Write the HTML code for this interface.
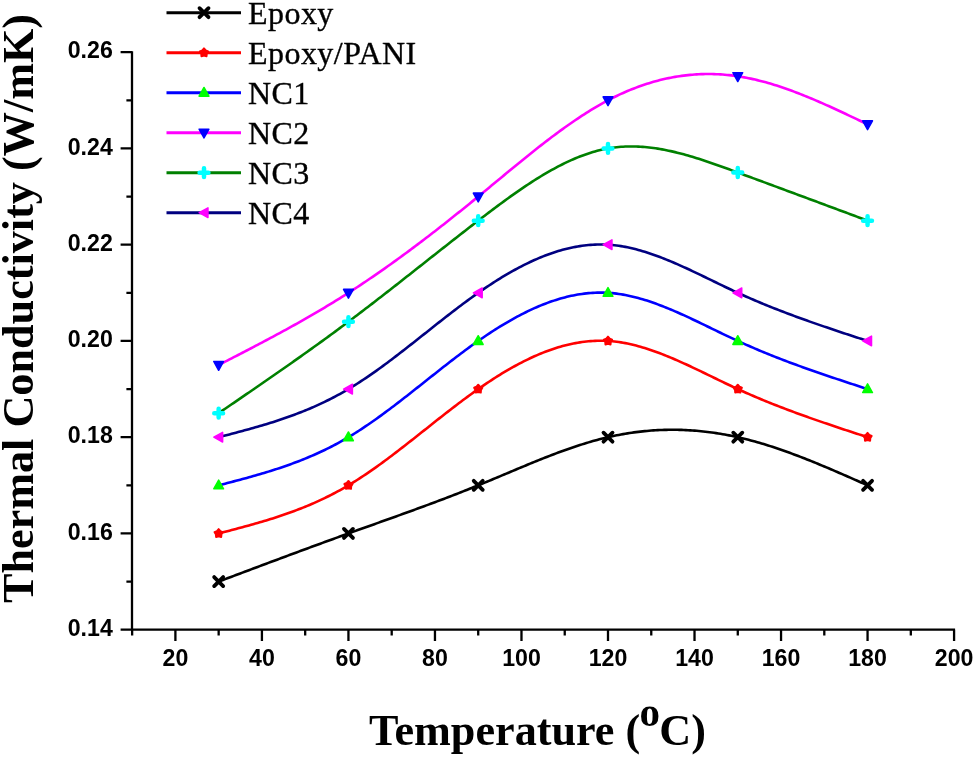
<!DOCTYPE html>
<html><head><meta charset="utf-8"><style>
html,body{margin:0;padding:0;background:#fff;width:975px;height:757px;overflow:hidden}
svg{display:block;will-change:transform}
.tk{font-family:"Liberation Sans",sans-serif;font-weight:bold;font-size:22.5px}
.lg{font-family:"Liberation Serif",serif;font-size:32px;letter-spacing:0.45px;stroke:#000;stroke-width:0.35px}
.ti{font-family:"Liberation Serif",serif;font-weight:bold;font-size:44.2px}
</style></head><body>
<svg width="975" height="757" viewBox="0 0 975 757">

<path d="M132.0 51.200000000000045L132.0 629.7 M131.0 629.7L955.0799999999999 629.7 M120.6 629.70L132.0 629.70 M120.6 533.45L132.0 533.45 M120.6 437.20L132.0 437.20 M120.6 340.95L132.0 340.95 M120.6 244.70L132.0 244.70 M120.6 148.45L132.0 148.45 M120.6 52.20L132.0 52.20 M126.4 581.58L132.0 581.58 M126.4 485.33L132.0 485.33 M126.4 389.08L132.0 389.08 M126.4 292.83L132.0 292.83 M126.4 196.58L132.0 196.58 M126.4 100.33L132.0 100.33 M175.40 629.7L175.40 641.0 M261.92 629.7L261.92 641.0 M348.44 629.7L348.44 641.0 M434.96 629.7L434.96 641.0 M521.48 629.7L521.48 641.0 M608.00 629.7L608.00 641.0 M694.52 629.7L694.52 641.0 M781.04 629.7L781.04 641.0 M867.56 629.7L867.56 641.0 M954.08 629.7L954.08 641.0 M132.14 629.7L132.14 635.4000000000001 M218.66 629.7L218.66 635.4000000000001 M305.18 629.7L305.18 635.4000000000001 M391.70 629.7L391.70 635.4000000000001 M478.22 629.7L478.22 635.4000000000001 M564.74 629.7L564.74 635.4000000000001 M651.26 629.7L651.26 635.4000000000001 M737.78 629.7L737.78 635.4000000000001 M824.30 629.7L824.30 635.4000000000001 M910.82 629.7L910.82 635.4000000000001" stroke="#000" stroke-width="2.3" fill="none"/>
<g transform="translate(112.8 635.80) scale(1.03 1.06)"><text class="tk" text-anchor="end">0.14</text></g>
<g transform="translate(112.8 539.55) scale(1.03 1.06)"><text class="tk" text-anchor="end">0.16</text></g>
<g transform="translate(112.8 443.30) scale(1.03 1.06)"><text class="tk" text-anchor="end">0.18</text></g>
<g transform="translate(112.8 347.05) scale(1.03 1.06)"><text class="tk" text-anchor="end">0.20</text></g>
<g transform="translate(112.8 250.80) scale(1.03 1.06)"><text class="tk" text-anchor="end">0.22</text></g>
<g transform="translate(112.8 154.55) scale(1.03 1.06)"><text class="tk" text-anchor="end">0.24</text></g>
<g transform="translate(112.8 58.30) scale(1.03 1.06)"><text class="tk" text-anchor="end">0.26</text></g>
<g transform="translate(175.40 665.8) scale(1.03 1.06)"><text class="tk" text-anchor="middle">20</text></g>
<g transform="translate(261.92 665.8) scale(1.03 1.06)"><text class="tk" text-anchor="middle">40</text></g>
<g transform="translate(348.44 665.8) scale(1.03 1.06)"><text class="tk" text-anchor="middle">60</text></g>
<g transform="translate(434.96 665.8) scale(1.03 1.06)"><text class="tk" text-anchor="middle">80</text></g>
<g transform="translate(521.48 665.8) scale(1.03 1.06)"><text class="tk" text-anchor="middle">100</text></g>
<g transform="translate(608.00 665.8) scale(1.03 1.06)"><text class="tk" text-anchor="middle">120</text></g>
<g transform="translate(694.52 665.8) scale(1.03 1.06)"><text class="tk" text-anchor="middle">140</text></g>
<g transform="translate(781.04 665.8) scale(1.03 1.06)"><text class="tk" text-anchor="middle">160</text></g>
<g transform="translate(867.56 665.8) scale(1.03 1.06)"><text class="tk" text-anchor="middle">180</text></g>
<g transform="translate(954.08 665.8) scale(1.03 1.06)"><text class="tk" text-anchor="middle">200</text></g>
<text class="ti" transform="translate(33 308.5) rotate(-90)" text-anchor="middle">Thermal Conductivity (W/mK)</text>
<text class="ti" x="369" y="745">Temperature (<tspan dy="-19.5" dx="-0.6" font-size="41">o</tspan><tspan dy="19.5" dx="-0.8">C)</tspan></text>
<path d="M218.66 581.58L220.82 580.76L222.99 579.95L225.15 579.13L227.31 578.32L229.47 577.51L231.64 576.69L233.80 575.88L235.96 575.07L238.13 574.25L240.29 573.44L242.45 572.63L244.62 571.82L246.78 571.01L248.94 570.19L251.11 569.38L253.27 568.57L255.43 567.76L257.59 566.95L259.76 566.14L261.92 565.33L264.08 564.52L266.25 563.71L268.41 562.90L270.57 562.09L272.74 561.29L274.90 560.48L277.06 559.67L279.22 558.86L281.39 558.06L283.55 557.25L285.71 556.45L287.88 555.64L290.04 554.84L292.20 554.04L294.37 553.24L296.53 552.43L298.69 551.63L300.85 550.83L303.02 550.03L305.18 549.24L307.34 548.44L309.51 547.64L311.67 546.84L313.83 546.05L316.00 545.25L318.16 544.46L320.32 543.67L322.48 542.88L324.65 542.09L326.81 541.29L328.97 540.51L331.14 539.72L333.30 538.93L335.46 538.14L337.62 537.36L339.79 536.58L341.95 535.79L344.11 535.01L346.28 534.23L348.44 533.45L350.60 532.67L352.77 531.89L354.93 531.12L357.09 530.34L359.25 529.57L361.42 528.79L363.58 528.02L365.74 527.25L367.91 526.47L370.07 525.70L372.23 524.93L374.40 524.16L376.56 523.38L378.72 522.61L380.88 521.84L383.05 521.07L385.21 520.29L387.37 519.52L389.54 518.75L391.70 517.97L393.86 517.20L396.03 516.42L398.19 515.64L400.35 514.86L402.51 514.08L404.68 513.30L406.84 512.52L409.00 511.74L411.17 510.95L413.33 510.16L415.49 509.38L417.66 508.59L419.82 507.79L421.98 507.00L424.14 506.20L426.31 505.40L428.47 504.60L430.63 503.80L432.80 502.99L434.96 502.19L437.12 501.37L439.29 500.56L441.45 499.74L443.61 498.92L445.77 498.10L447.94 497.28L450.10 496.45L452.26 495.61L454.43 494.78L456.59 493.94L458.75 493.09L460.92 492.25L463.08 491.40L465.24 490.54L467.40 489.68L469.57 488.82L471.73 487.95L473.89 487.08L476.06 486.21L478.22 485.33L480.38 484.44L482.55 483.55L484.71 482.66L486.87 481.76L489.03 480.86L491.20 479.96L493.36 479.05L495.52 478.15L497.69 477.24L499.85 476.33L502.01 475.42L504.18 474.51L506.34 473.59L508.50 472.68L510.66 471.77L512.83 470.86L514.99 469.95L517.15 469.05L519.32 468.14L521.48 467.24L523.64 466.34L525.81 465.44L527.97 464.54L530.13 463.65L532.29 462.77L534.46 461.89L536.62 461.01L538.78 460.14L540.95 459.27L543.11 458.41L545.27 457.56L547.44 456.71L549.60 455.87L551.76 455.04L553.92 454.22L556.09 453.40L558.25 452.59L560.41 451.79L562.58 451.00L564.74 450.22L566.90 449.45L569.07 448.69L571.23 447.94L573.39 447.21L575.55 446.48L577.72 445.76L579.88 445.06L582.04 444.37L584.21 443.69L586.37 443.03L588.53 442.38L590.70 441.74L592.86 441.12L595.02 440.51L597.18 439.92L599.35 439.35L601.51 438.78L603.67 438.24L605.84 437.71L608.00 437.20L610.16 436.71L612.33 436.23L614.49 435.77L616.65 435.33L618.81 434.90L620.98 434.49L623.14 434.10L625.30 433.73L627.47 433.37L629.63 433.03L631.79 432.71L633.96 432.40L636.12 432.11L638.28 431.84L640.44 431.59L642.61 431.35L644.77 431.13L646.93 430.92L649.10 430.74L651.26 430.57L653.42 430.41L655.59 430.27L657.75 430.15L659.91 430.05L662.07 429.96L664.24 429.89L666.40 429.84L668.56 429.80L670.73 429.78L672.89 429.77L675.05 429.79L677.22 429.81L679.38 429.86L681.54 429.92L683.70 430.00L685.87 430.09L688.03 430.20L690.19 430.33L692.36 430.47L694.52 430.63L696.68 430.81L698.85 431.00L701.01 431.21L703.17 431.43L705.33 431.67L707.50 431.93L709.66 432.20L711.82 432.49L713.99 432.80L716.15 433.12L718.31 433.45L720.48 433.81L722.64 434.18L724.80 434.56L726.96 434.96L729.13 435.38L731.29 435.81L733.45 436.26L735.62 436.72L737.78 437.20L739.94 437.70L742.11 438.21L744.27 438.73L746.43 439.27L748.59 439.83L750.76 440.40L752.92 440.98L755.08 441.58L757.25 442.19L759.41 442.82L761.57 443.46L763.74 444.11L765.90 444.77L768.06 445.45L770.22 446.13L772.39 446.83L774.55 447.54L776.71 448.27L778.88 449.00L781.04 449.75L783.20 450.50L785.37 451.26L787.53 452.04L789.69 452.82L791.85 453.62L794.02 454.42L796.18 455.23L798.34 456.06L800.51 456.88L802.67 457.72L804.83 458.57L807.00 459.42L809.16 460.28L811.32 461.15L813.48 462.02L815.65 462.90L817.81 463.79L819.97 464.68L822.14 465.58L824.30 466.49L826.46 467.40L828.63 468.31L830.79 469.23L832.95 470.15L835.11 471.08L837.28 472.01L839.44 472.95L841.60 473.89L843.77 474.83L845.93 475.77L848.09 476.72L850.26 477.67L852.42 478.62L854.58 479.58L856.74 480.53L858.91 481.49L861.07 482.45L863.23 483.41L865.40 484.37L867.56 485.33" stroke="#000000" stroke-width="2.6" fill="none" stroke-linejoin="round"/>
<path d="M218.66 533.45L220.82 532.89L222.99 532.33L225.15 531.77L227.31 531.20L229.47 530.64L231.64 530.07L233.80 529.50L235.96 528.93L238.13 528.36L240.29 527.78L242.45 527.20L244.62 526.61L246.78 526.02L248.94 525.42L251.11 524.82L253.27 524.21L255.43 523.59L257.59 522.97L259.76 522.34L261.92 521.71L264.08 521.06L266.25 520.41L268.41 519.75L270.57 519.07L272.74 518.39L274.90 517.70L277.06 517.00L279.22 516.29L281.39 515.56L283.55 514.83L285.71 514.08L287.88 513.32L290.04 512.55L292.20 511.76L294.37 510.96L296.53 510.15L298.69 509.32L300.85 508.47L303.02 507.61L305.18 506.74L307.34 505.85L309.51 504.94L311.67 504.02L313.83 503.08L316.00 502.12L318.16 501.14L320.32 500.14L322.48 499.13L324.65 498.09L326.81 497.04L328.97 495.97L331.14 494.87L333.30 493.76L335.46 492.62L337.62 491.46L339.79 490.28L341.95 489.07L344.11 487.85L346.28 486.60L348.44 485.33L350.60 484.03L352.77 482.71L354.93 481.36L357.09 480.00L359.25 478.61L361.42 477.20L363.58 475.77L365.74 474.32L367.91 472.86L370.07 471.37L372.23 469.87L374.40 468.35L376.56 466.82L378.72 465.27L380.88 463.70L383.05 462.12L385.21 460.53L387.37 458.93L389.54 457.31L391.70 455.68L393.86 454.04L396.03 452.39L398.19 450.74L400.35 449.07L402.51 447.39L404.68 445.71L406.84 444.02L409.00 442.33L411.17 440.63L413.33 438.93L415.49 437.22L417.66 435.51L419.82 433.80L421.98 432.08L424.14 430.36L426.31 428.65L428.47 426.93L430.63 425.22L432.80 423.50L434.96 421.79L437.12 420.08L439.29 418.38L441.45 416.67L443.61 414.98L445.77 413.29L447.94 411.60L450.10 409.93L452.26 408.26L454.43 406.60L456.59 404.95L458.75 403.30L460.92 401.67L463.08 400.05L465.24 398.44L467.40 396.85L469.57 395.26L471.73 393.69L473.89 392.14L476.06 390.60L478.22 389.08L480.38 387.57L482.55 386.08L484.71 384.60L486.87 383.15L489.03 381.71L491.20 380.29L493.36 378.89L495.52 377.51L497.69 376.14L499.85 374.80L502.01 373.48L504.18 372.18L506.34 370.90L508.50 369.64L510.66 368.40L512.83 367.18L514.99 365.99L517.15 364.82L519.32 363.67L521.48 362.54L523.64 361.44L525.81 360.37L527.97 359.31L530.13 358.29L532.29 357.28L534.46 356.31L536.62 355.36L538.78 354.43L540.95 353.54L543.11 352.66L545.27 351.82L547.44 351.01L549.60 350.22L551.76 349.46L553.92 348.73L556.09 348.03L558.25 347.36L560.41 346.72L562.58 346.11L564.74 345.53L566.90 344.98L569.07 344.46L571.23 343.98L573.39 343.53L575.55 343.11L577.72 342.72L579.88 342.36L582.04 342.04L584.21 341.76L586.37 341.50L588.53 341.29L590.70 341.10L592.86 340.96L595.02 340.84L597.18 340.77L599.35 340.73L601.51 340.73L603.67 340.77L605.84 340.84L608.00 340.95L610.16 341.10L612.33 341.29L614.49 341.51L616.65 341.77L618.81 342.07L620.98 342.39L623.14 342.76L625.30 343.15L627.47 343.58L629.63 344.04L631.79 344.53L633.96 345.05L636.12 345.60L638.28 346.17L640.44 346.77L642.61 347.40L644.77 348.06L646.93 348.74L649.10 349.44L651.26 350.17L653.42 350.92L655.59 351.69L657.75 352.48L659.91 353.29L662.07 354.12L664.24 354.97L666.40 355.84L668.56 356.72L670.73 357.62L672.89 358.54L675.05 359.47L677.22 360.41L679.38 361.36L681.54 362.33L683.70 363.31L685.87 364.30L688.03 365.30L690.19 366.30L692.36 367.32L694.52 368.34L696.68 369.37L698.85 370.41L701.01 371.45L703.17 372.49L705.33 373.54L707.50 374.58L709.66 375.64L711.82 376.69L713.99 377.74L716.15 378.79L718.31 379.84L720.48 380.88L722.64 381.93L724.80 382.97L726.96 384.00L729.13 385.03L731.29 386.05L733.45 387.07L735.62 388.08L737.78 389.08L739.94 390.06L742.11 391.04L744.27 392.01L746.43 392.98L748.59 393.93L750.76 394.87L752.92 395.81L755.08 396.73L757.25 397.65L759.41 398.56L761.57 399.46L763.74 400.36L765.90 401.24L768.06 402.12L770.22 403.00L772.39 403.86L774.55 404.72L776.71 405.57L778.88 406.41L781.04 407.25L783.20 408.08L785.37 408.90L787.53 409.72L789.69 410.54L791.85 411.34L794.02 412.14L796.18 412.94L798.34 413.73L800.51 414.52L802.67 415.30L804.83 416.07L807.00 416.84L809.16 417.61L811.32 418.37L813.48 419.13L815.65 419.88L817.81 420.63L819.97 421.38L822.14 422.12L824.30 422.86L826.46 423.60L828.63 424.33L830.79 425.06L832.95 425.79L835.11 426.52L837.28 427.24L839.44 427.96L841.60 428.68L843.77 429.40L845.93 430.11L848.09 430.83L850.26 431.54L852.42 432.25L854.58 432.96L856.74 433.67L858.91 434.37L861.07 435.08L863.23 435.79L865.40 436.49L867.56 437.20" stroke="#ff0000" stroke-width="2.6" fill="none" stroke-linejoin="round"/>
<path d="M218.66 485.33L220.82 484.76L222.99 484.20L225.15 483.64L227.31 483.08L229.47 482.52L231.64 481.95L233.80 481.38L235.96 480.81L238.13 480.23L240.29 479.65L242.45 479.07L244.62 478.49L246.78 477.89L248.94 477.30L251.11 476.69L253.27 476.09L255.43 475.47L257.59 474.85L259.76 474.22L261.92 473.58L264.08 472.94L266.25 472.28L268.41 471.62L270.57 470.95L272.74 470.27L274.90 469.58L277.06 468.87L279.22 468.16L281.39 467.44L283.55 466.70L285.71 465.95L287.88 465.19L290.04 464.42L292.20 463.63L294.37 462.83L296.53 462.02L298.69 461.19L300.85 460.35L303.02 459.49L305.18 458.61L307.34 457.72L309.51 456.82L311.67 455.89L313.83 454.95L316.00 453.99L318.16 453.01L320.32 452.02L322.48 451.00L324.65 449.97L326.81 448.91L328.97 447.84L331.14 446.75L333.30 445.63L335.46 444.49L337.62 443.33L339.79 442.15L341.95 440.95L344.11 439.72L346.28 438.47L348.44 437.20L350.60 435.90L352.77 434.58L354.93 433.24L357.09 431.87L359.25 430.48L361.42 429.08L363.58 427.65L365.74 426.20L367.91 424.73L370.07 423.25L372.23 421.75L374.40 420.23L376.56 418.69L378.72 417.14L380.88 415.58L383.05 414.00L385.21 412.41L387.37 410.80L389.54 409.18L391.70 407.56L393.86 405.92L396.03 404.27L398.19 402.61L400.35 400.94L402.51 399.27L404.68 397.59L406.84 395.90L409.00 394.21L411.17 392.51L413.33 390.80L415.49 389.09L417.66 387.38L419.82 385.67L421.98 383.96L424.14 382.24L426.31 380.52L428.47 378.81L430.63 377.09L432.80 375.38L434.96 373.66L437.12 371.96L439.29 370.25L441.45 368.55L443.61 366.85L445.77 365.16L447.94 363.48L450.10 361.80L452.26 360.13L454.43 358.47L456.59 356.82L458.75 355.18L460.92 353.55L463.08 351.93L465.24 350.32L467.40 348.72L469.57 347.14L471.73 345.57L473.89 344.01L476.06 342.47L478.22 340.95L480.38 339.44L482.55 337.95L484.71 336.48L486.87 335.02L489.03 333.58L491.20 332.16L493.36 330.76L495.52 329.38L497.69 328.02L499.85 326.68L502.01 325.35L504.18 324.05L506.34 322.77L508.50 321.51L510.66 320.27L512.83 319.06L514.99 317.86L517.15 316.69L519.32 315.54L521.48 314.42L523.64 313.32L525.81 312.24L527.97 311.19L530.13 310.16L532.29 309.16L534.46 308.18L536.62 307.23L538.78 306.31L540.95 305.41L543.11 304.54L545.27 303.70L547.44 302.88L549.60 302.09L551.76 301.34L553.92 300.61L556.09 299.91L558.25 299.24L560.41 298.59L562.58 297.98L564.74 297.40L566.90 296.86L569.07 296.34L571.23 295.85L573.39 295.40L575.55 294.98L577.72 294.59L579.88 294.24L582.04 293.92L584.21 293.63L586.37 293.38L588.53 293.16L590.70 292.98L592.86 292.83L595.02 292.72L597.18 292.64L599.35 292.61L601.51 292.60L603.67 292.64L605.84 292.71L608.00 292.83L610.16 292.97L612.33 293.16L614.49 293.39L616.65 293.65L618.81 293.94L620.98 294.27L623.14 294.63L625.30 295.03L627.47 295.46L629.63 295.92L631.79 296.40L633.96 296.92L636.12 297.47L638.28 298.05L640.44 298.65L642.61 299.28L644.77 299.93L646.93 300.61L649.10 301.32L651.26 302.04L653.42 302.79L655.59 303.56L657.75 304.36L659.91 305.17L662.07 306.00L664.24 306.85L666.40 307.71L668.56 308.60L670.73 309.50L672.89 310.41L675.05 311.34L677.22 312.28L679.38 313.24L681.54 314.21L683.70 315.18L685.87 316.17L688.03 317.17L690.19 318.18L692.36 319.20L694.52 320.22L696.68 321.25L698.85 322.28L701.01 323.32L703.17 324.36L705.33 325.41L707.50 326.46L709.66 327.51L711.82 328.56L713.99 329.61L716.15 330.66L718.31 331.71L720.48 332.76L722.64 333.80L724.80 334.84L726.96 335.88L729.13 336.91L731.29 337.93L733.45 338.94L735.62 339.95L737.78 340.95L739.94 341.94L742.11 342.92L744.27 343.89L746.43 344.85L748.59 345.80L750.76 346.75L752.92 347.68L755.08 348.61L757.25 349.53L759.41 350.44L761.57 351.34L763.74 352.23L765.90 353.12L768.06 354.00L770.22 354.87L772.39 355.73L774.55 356.59L776.71 357.44L778.88 358.29L781.04 359.12L783.20 359.95L785.37 360.78L787.53 361.60L789.69 362.41L791.85 363.22L794.02 364.02L796.18 364.81L798.34 365.61L800.51 366.39L802.67 367.17L804.83 367.95L807.00 368.72L809.16 369.48L811.32 370.25L813.48 371.01L815.65 371.76L817.81 372.51L819.97 373.26L822.14 374.00L824.30 374.74L826.46 375.48L828.63 376.21L830.79 376.94L832.95 377.67L835.11 378.39L837.28 379.12L839.44 379.84L841.60 380.56L843.77 381.27L845.93 381.99L848.09 382.70L850.26 383.41L852.42 384.12L854.58 384.83L856.74 385.54L858.91 386.25L861.07 386.96L863.23 387.66L865.40 388.37L867.56 389.08" stroke="#0000ff" stroke-width="2.6" fill="none" stroke-linejoin="round"/>
<path d="M218.66 365.01L220.82 363.90L222.99 362.79L225.15 361.67L227.31 360.56L229.47 359.44L231.64 358.33L233.80 357.21L235.96 356.10L238.13 354.98L240.29 353.86L242.45 352.74L244.62 351.61L246.78 350.49L248.94 349.36L251.11 348.23L253.27 347.10L255.43 345.97L257.59 344.83L259.76 343.69L261.92 342.55L264.08 341.41L266.25 340.26L268.41 339.11L270.57 337.96L272.74 336.80L274.90 335.64L277.06 334.47L279.22 333.30L281.39 332.13L283.55 330.95L285.71 329.77L287.88 328.58L290.04 327.39L292.20 326.19L294.37 324.99L296.53 323.78L298.69 322.56L300.85 321.35L303.02 320.12L305.18 318.89L307.34 317.66L309.51 316.41L311.67 315.16L313.83 313.91L316.00 312.65L318.16 311.38L320.32 310.10L322.48 308.82L324.65 307.53L326.81 306.23L328.97 304.93L331.14 303.62L333.30 302.30L335.46 300.97L337.62 299.63L339.79 298.29L341.95 296.94L344.11 295.57L346.28 294.20L348.44 292.83L350.60 291.44L352.77 290.04L354.93 288.63L357.09 287.22L359.25 285.80L361.42 284.36L363.58 282.92L365.74 281.48L367.91 280.02L370.07 278.55L372.23 277.08L374.40 275.60L376.56 274.11L378.72 272.61L380.88 271.10L383.05 269.59L385.21 268.07L387.37 266.54L389.54 265.01L391.70 263.46L393.86 261.91L396.03 260.35L398.19 258.79L400.35 257.22L402.51 255.64L404.68 254.05L406.84 252.46L409.00 250.86L411.17 249.25L413.33 247.64L415.49 246.02L417.66 244.39L419.82 242.76L421.98 241.12L424.14 239.47L426.31 237.82L428.47 236.16L430.63 234.50L432.80 232.83L434.96 231.16L437.12 229.48L439.29 227.79L441.45 226.10L443.61 224.40L445.77 222.70L447.94 220.99L450.10 219.28L452.26 217.56L454.43 215.84L456.59 214.11L458.75 212.38L460.92 210.64L463.08 208.90L465.24 207.15L467.40 205.40L469.57 203.64L471.73 201.88L473.89 200.12L476.06 198.35L478.22 196.58L480.38 194.80L482.55 193.02L484.71 191.23L486.87 189.45L489.03 187.66L491.20 185.87L493.36 184.08L495.52 182.29L497.69 180.50L499.85 178.71L502.01 176.91L504.18 175.13L506.34 173.34L508.50 171.55L510.66 169.77L512.83 167.99L514.99 166.22L517.15 164.45L519.32 162.68L521.48 160.92L523.64 159.16L525.81 157.41L527.97 155.67L530.13 153.94L532.29 152.21L534.46 150.49L536.62 148.78L538.78 147.08L540.95 145.38L543.11 143.70L545.27 142.03L547.44 140.37L549.60 138.72L551.76 137.08L553.92 135.46L556.09 133.85L558.25 132.25L560.41 130.66L562.58 129.09L564.74 127.54L566.90 126.00L569.07 124.48L571.23 122.97L573.39 121.48L575.55 120.01L577.72 118.55L579.88 117.11L582.04 115.70L584.21 114.30L586.37 112.92L588.53 111.56L590.70 110.22L592.86 108.91L595.02 107.61L597.18 106.34L599.35 105.09L601.51 103.86L603.67 102.66L605.84 101.48L608.00 100.33L610.16 99.20L612.33 98.09L614.49 97.01L616.65 95.96L618.81 94.93L620.98 93.93L623.14 92.95L625.30 91.99L627.47 91.06L629.63 90.16L631.79 89.28L633.96 88.43L636.12 87.60L638.28 86.79L640.44 86.01L642.61 85.26L644.77 84.53L646.93 83.82L649.10 83.14L651.26 82.49L653.42 81.86L655.59 81.25L657.75 80.67L659.91 80.11L662.07 79.58L664.24 79.07L666.40 78.59L668.56 78.13L670.73 77.69L672.89 77.28L675.05 76.90L677.22 76.54L679.38 76.20L681.54 75.89L683.70 75.60L685.87 75.34L688.03 75.10L690.19 74.88L692.36 74.69L694.52 74.53L696.68 74.38L698.85 74.27L701.01 74.17L703.17 74.10L705.33 74.06L707.50 74.04L709.66 74.04L711.82 74.07L713.99 74.12L716.15 74.19L718.31 74.29L720.48 74.42L722.64 74.56L724.80 74.73L726.96 74.93L729.13 75.15L731.29 75.39L733.45 75.66L735.62 75.95L737.78 76.26L739.94 76.60L742.11 76.96L744.27 77.35L746.43 77.75L748.59 78.18L750.76 78.63L752.92 79.11L755.08 79.60L757.25 80.11L759.41 80.65L761.57 81.20L763.74 81.78L765.90 82.37L768.06 82.98L770.22 83.61L772.39 84.26L774.55 84.92L776.71 85.60L778.88 86.30L781.04 87.02L783.20 87.75L785.37 88.49L787.53 89.25L789.69 90.03L791.85 90.82L794.02 91.62L796.18 92.44L798.34 93.27L800.51 94.12L802.67 94.97L804.83 95.84L807.00 96.72L809.16 97.61L811.32 98.51L813.48 99.42L815.65 100.34L817.81 101.27L819.97 102.21L822.14 103.16L824.30 104.12L826.46 105.08L828.63 106.05L830.79 107.03L832.95 108.02L835.11 109.01L837.28 110.01L839.44 111.01L841.60 112.02L843.77 113.04L845.93 114.05L848.09 115.08L850.26 116.10L852.42 117.13L854.58 118.16L856.74 119.20L858.91 120.23L861.07 121.27L863.23 122.31L865.40 123.35L867.56 124.39" stroke="#ff00ff" stroke-width="2.6" fill="none" stroke-linejoin="round"/>
<path d="M218.66 413.14L220.82 411.66L222.99 410.19L225.15 408.71L227.31 407.24L229.47 405.76L231.64 404.28L233.80 402.81L235.96 401.33L238.13 399.85L240.29 398.37L242.45 396.89L244.62 395.41L246.78 393.93L248.94 392.45L251.11 390.96L253.27 389.48L255.43 387.99L257.59 386.50L259.76 385.02L261.92 383.52L264.08 382.03L266.25 380.54L268.41 379.04L270.57 377.55L272.74 376.05L274.90 374.54L277.06 373.04L279.22 371.53L281.39 370.03L283.55 368.52L285.71 367.00L287.88 365.49L290.04 363.97L292.20 362.45L294.37 360.92L296.53 359.40L298.69 357.87L300.85 356.34L303.02 354.80L305.18 353.26L307.34 351.72L309.51 350.18L311.67 348.63L313.83 347.07L316.00 345.52L318.16 343.96L320.32 342.40L322.48 340.83L324.65 339.26L326.81 337.68L328.97 336.11L331.14 334.52L333.30 332.94L335.46 331.34L337.62 329.75L339.79 328.15L341.95 326.54L344.11 324.93L346.28 323.32L348.44 321.70L350.60 320.08L352.77 318.45L354.93 316.81L357.09 315.18L359.25 313.53L361.42 311.89L363.58 310.24L365.74 308.58L367.91 306.93L370.07 305.27L372.23 303.60L374.40 301.93L376.56 300.26L378.72 298.59L380.88 296.91L383.05 295.23L385.21 293.54L387.37 291.86L389.54 290.17L391.70 288.48L393.86 286.79L396.03 285.10L398.19 283.40L400.35 281.70L402.51 280.00L404.68 278.30L406.84 276.60L409.00 274.90L411.17 273.19L413.33 271.49L415.49 269.78L417.66 268.08L419.82 266.37L421.98 264.66L424.14 262.96L426.31 261.25L428.47 259.54L430.63 257.84L432.80 256.13L434.96 254.42L437.12 252.72L439.29 251.01L441.45 249.31L443.61 247.61L445.77 245.91L447.94 244.21L450.10 242.51L452.26 240.81L454.43 239.12L456.59 237.43L458.75 235.74L460.92 234.05L463.08 232.36L465.24 230.68L467.40 229.00L469.57 227.32L471.73 225.64L473.89 223.97L476.06 222.30L478.22 220.64L480.38 218.98L482.55 217.32L484.71 215.66L486.87 214.02L489.03 212.37L491.20 210.74L493.36 209.11L495.52 207.49L497.69 205.87L499.85 204.27L502.01 202.67L504.18 201.09L506.34 199.51L508.50 197.95L510.66 196.40L512.83 194.86L514.99 193.34L517.15 191.82L519.32 190.33L521.48 188.84L523.64 187.37L525.81 185.92L527.97 184.49L530.13 183.07L532.29 181.67L534.46 180.28L536.62 178.92L538.78 177.58L540.95 176.25L543.11 174.95L545.27 173.67L547.44 172.41L549.60 171.17L551.76 169.96L553.92 168.77L556.09 167.60L558.25 166.46L560.41 165.34L562.58 164.25L564.74 163.19L566.90 162.16L569.07 161.15L571.23 160.17L573.39 159.22L575.55 158.30L577.72 157.41L579.88 156.55L582.04 155.72L584.21 154.92L586.37 154.16L588.53 153.43L590.70 152.73L592.86 152.07L595.02 151.44L597.18 150.85L599.35 150.30L601.51 149.78L603.67 149.30L605.84 148.85L608.00 148.45L610.16 148.08L612.33 147.76L614.49 147.47L616.65 147.22L618.81 147.00L620.98 146.82L623.14 146.68L625.30 146.57L627.47 146.49L629.63 146.45L631.79 146.44L633.96 146.47L636.12 146.52L638.28 146.60L640.44 146.72L642.61 146.86L644.77 147.04L646.93 147.24L649.10 147.47L651.26 147.72L653.42 148.00L655.59 148.31L657.75 148.64L659.91 149.00L662.07 149.38L664.24 149.78L666.40 150.21L668.56 150.66L670.73 151.12L672.89 151.61L675.05 152.12L677.22 152.65L679.38 153.19L681.54 153.76L683.70 154.34L685.87 154.94L688.03 155.55L690.19 156.18L692.36 156.82L694.52 157.47L696.68 158.14L698.85 158.83L701.01 159.52L703.17 160.23L705.33 160.94L707.50 161.67L709.66 162.40L711.82 163.15L713.99 163.90L716.15 164.66L718.31 165.42L720.48 166.20L722.64 166.97L724.80 167.76L726.96 168.54L729.13 169.33L731.29 170.12L733.45 170.92L735.62 171.72L737.78 172.51L739.94 173.31L742.11 174.11L744.27 174.91L746.43 175.70L748.59 176.50L750.76 177.30L752.92 178.10L755.08 178.90L757.25 179.70L759.41 180.50L761.57 181.30L763.74 182.10L765.90 182.90L768.06 183.70L770.22 184.50L772.39 185.30L774.55 186.10L776.71 186.90L778.88 187.70L781.04 188.50L783.20 189.30L785.37 190.11L787.53 190.91L789.69 191.71L791.85 192.51L794.02 193.31L796.18 194.12L798.34 194.92L800.51 195.72L802.67 196.52L804.83 197.33L807.00 198.13L809.16 198.93L811.32 199.73L813.48 200.54L815.65 201.34L817.81 202.14L819.97 202.95L822.14 203.75L824.30 204.55L826.46 205.36L828.63 206.16L830.79 206.97L832.95 207.77L835.11 208.57L837.28 209.38L839.44 210.18L841.60 210.99L843.77 211.79L845.93 212.59L848.09 213.40L850.26 214.20L852.42 215.01L854.58 215.81L856.74 216.62L858.91 217.42L861.07 218.22L863.23 219.03L865.40 219.83L867.56 220.64" stroke="#008000" stroke-width="2.6" fill="none" stroke-linejoin="round"/>
<path d="M218.66 437.20L220.82 436.64L222.99 436.08L225.15 435.52L227.31 434.95L229.47 434.39L231.64 433.82L233.80 433.25L235.96 432.68L238.13 432.11L240.29 431.53L242.45 430.95L244.62 430.36L246.78 429.77L248.94 429.17L251.11 428.57L253.27 427.96L255.43 427.34L257.59 426.72L259.76 426.09L261.92 425.46L264.08 424.81L266.25 424.16L268.41 423.50L270.57 422.82L272.74 422.14L274.90 421.45L277.06 420.75L279.22 420.04L281.39 419.31L283.55 418.58L285.71 417.83L287.88 417.07L290.04 416.30L292.20 415.51L294.37 414.71L296.53 413.90L298.69 413.07L300.85 412.22L303.02 411.36L305.18 410.49L307.34 409.60L309.51 408.69L311.67 407.77L313.83 406.83L316.00 405.87L318.16 404.89L320.32 403.89L322.48 402.88L324.65 401.84L326.81 400.79L328.97 399.72L331.14 398.62L333.30 397.51L335.46 396.37L337.62 395.21L339.79 394.03L341.95 392.82L344.11 391.60L346.28 390.35L348.44 389.08L350.60 387.78L352.77 386.46L354.93 385.11L357.09 383.75L359.25 382.36L361.42 380.95L363.58 379.52L365.74 378.07L367.91 376.61L370.07 375.12L372.23 373.62L374.40 372.10L376.56 370.57L378.72 369.02L380.88 367.45L383.05 365.87L385.21 364.28L387.37 362.68L389.54 361.06L391.70 359.43L393.86 357.79L396.03 356.14L398.19 354.49L400.35 352.82L402.51 351.14L404.68 349.46L406.84 347.77L409.00 346.08L411.17 344.38L413.33 342.68L415.49 340.97L417.66 339.26L419.82 337.55L421.98 335.83L424.14 334.11L426.31 332.40L428.47 330.68L430.63 328.97L432.80 327.25L434.96 325.54L437.12 323.83L439.29 322.13L441.45 320.42L443.61 318.73L445.77 317.04L447.94 315.35L450.10 313.68L452.26 312.01L454.43 310.35L456.59 308.70L458.75 307.05L460.92 305.42L463.08 303.80L465.24 302.19L467.40 300.60L469.57 299.01L471.73 297.44L473.89 295.89L476.06 294.35L478.22 292.83L480.38 291.32L482.55 289.83L484.71 288.35L486.87 286.90L489.03 285.46L491.20 284.04L493.36 282.64L495.52 281.26L497.69 279.89L499.85 278.55L502.01 277.23L504.18 275.93L506.34 274.65L508.50 273.39L510.66 272.15L512.83 270.93L514.99 269.74L517.15 268.57L519.32 267.42L521.48 266.29L523.64 265.19L525.81 264.12L527.97 263.06L530.13 262.04L532.29 261.03L534.46 260.06L536.62 259.11L538.78 258.18L540.95 257.29L543.11 256.41L545.27 255.57L547.44 254.76L549.60 253.97L551.76 253.21L553.92 252.48L556.09 251.78L558.25 251.11L560.41 250.47L562.58 249.86L564.74 249.28L566.90 248.73L569.07 248.21L571.23 247.73L573.39 247.28L575.55 246.86L577.72 246.47L579.88 246.11L582.04 245.79L584.21 245.51L586.37 245.25L588.53 245.04L590.70 244.85L592.86 244.71L595.02 244.59L597.18 244.52L599.35 244.48L601.51 244.48L603.67 244.52L605.84 244.59L608.00 244.70L610.16 244.85L612.33 245.04L614.49 245.26L616.65 245.52L618.81 245.82L620.98 246.14L623.14 246.51L625.30 246.90L627.47 247.33L629.63 247.79L631.79 248.28L633.96 248.80L636.12 249.35L638.28 249.92L640.44 250.52L642.61 251.15L644.77 251.81L646.93 252.49L649.10 253.19L651.26 253.92L653.42 254.67L655.59 255.44L657.75 256.23L659.91 257.04L662.07 257.87L664.24 258.72L666.40 259.59L668.56 260.47L670.73 261.37L672.89 262.29L675.05 263.22L677.22 264.16L679.38 265.11L681.54 266.08L683.70 267.06L685.87 268.05L688.03 269.05L690.19 270.05L692.36 271.07L694.52 272.09L696.68 273.12L698.85 274.16L701.01 275.20L703.17 276.24L705.33 277.29L707.50 278.33L709.66 279.39L711.82 280.44L713.99 281.49L716.15 282.54L718.31 283.59L720.48 284.63L722.64 285.68L724.80 286.72L726.96 287.75L729.13 288.78L731.29 289.80L733.45 290.82L735.62 291.83L737.78 292.83L739.94 293.81L742.11 294.79L744.27 295.76L746.43 296.73L748.59 297.68L750.76 298.62L752.92 299.56L755.08 300.48L757.25 301.40L759.41 302.31L761.57 303.21L763.74 304.11L765.90 304.99L768.06 305.87L770.22 306.75L772.39 307.61L774.55 308.47L776.71 309.32L778.88 310.16L781.04 311.00L783.20 311.83L785.37 312.65L787.53 313.47L789.69 314.29L791.85 315.09L794.02 315.89L796.18 316.69L798.34 317.48L800.51 318.27L802.67 319.05L804.83 319.82L807.00 320.59L809.16 321.36L811.32 322.12L813.48 322.88L815.65 323.63L817.81 324.38L819.97 325.13L822.14 325.87L824.30 326.61L826.46 327.35L828.63 328.08L830.79 328.81L832.95 329.54L835.11 330.27L837.28 330.99L839.44 331.71L841.60 332.43L843.77 333.15L845.93 333.86L848.09 334.58L850.26 335.29L852.42 336.00L854.58 336.71L856.74 337.42L858.91 338.12L861.07 338.83L863.23 339.54L865.40 340.24L867.56 340.95" stroke="#000080" stroke-width="2.6" fill="none" stroke-linejoin="round"/>
<path d="M214.16 577.08L223.16 586.08M214.16 586.08L223.16 577.08" stroke="#000000" stroke-width="3.8" stroke-linecap="round" fill="none"/>
<path d="M343.94 528.95L352.94 537.95M343.94 537.95L352.94 528.95" stroke="#000000" stroke-width="3.8" stroke-linecap="round" fill="none"/>
<path d="M473.72 480.83L482.72 489.83M473.72 489.83L482.72 480.83" stroke="#000000" stroke-width="3.8" stroke-linecap="round" fill="none"/>
<path d="M603.50 432.70L612.50 441.70M603.50 441.70L612.50 432.70" stroke="#000000" stroke-width="3.8" stroke-linecap="round" fill="none"/>
<path d="M733.28 432.70L742.28 441.70M733.28 441.70L742.28 432.70" stroke="#000000" stroke-width="3.8" stroke-linecap="round" fill="none"/>
<path d="M863.06 480.83L872.06 489.83M863.06 489.83L872.06 480.83" stroke="#000000" stroke-width="3.8" stroke-linecap="round" fill="none"/>
<path d="M218.66 529.15L220.36 531.10L222.75 532.12L221.42 534.35L221.19 536.93L218.66 536.35L216.13 536.93L215.90 534.35L214.57 532.12L216.96 531.10Z" fill="#ff0000" stroke="#ff0000" stroke-width="2.0" stroke-linejoin="round"/>
<path d="M348.44 481.03L350.14 482.98L352.53 484.00L351.20 486.22L350.97 488.80L348.44 488.23L345.91 488.80L345.68 486.22L344.35 484.00L346.74 482.98Z" fill="#ff0000" stroke="#ff0000" stroke-width="2.0" stroke-linejoin="round"/>
<path d="M478.22 384.78L479.92 386.73L482.31 387.75L480.98 389.97L480.75 392.55L478.22 391.98L475.69 392.55L475.46 389.97L474.13 387.75L476.52 386.73Z" fill="#ff0000" stroke="#ff0000" stroke-width="2.0" stroke-linejoin="round"/>
<path d="M608.00 336.65L609.70 338.60L612.09 339.62L610.76 341.85L610.53 344.43L608.00 343.85L605.47 344.43L605.24 341.85L603.91 339.62L606.30 338.60Z" fill="#ff0000" stroke="#ff0000" stroke-width="2.0" stroke-linejoin="round"/>
<path d="M737.78 384.78L739.48 386.73L741.87 387.75L740.54 389.97L740.31 392.55L737.78 391.98L735.25 392.55L735.02 389.97L733.69 387.75L736.08 386.73Z" fill="#ff0000" stroke="#ff0000" stroke-width="2.0" stroke-linejoin="round"/>
<path d="M867.56 432.90L869.26 434.85L871.65 435.87L870.32 438.10L870.09 440.68L867.56 440.10L865.03 440.68L864.80 438.10L863.47 435.87L865.86 434.85Z" fill="#ff0000" stroke="#ff0000" stroke-width="2.0" stroke-linejoin="round"/>
<path d="M218.66 480.05L223.56 488.85L213.76 488.85Z" fill="#00ff00" stroke="#00ff00" stroke-width="1.5" stroke-linejoin="round"/>
<path d="M348.44 431.92L353.34 440.72L343.54 440.72Z" fill="#00ff00" stroke="#00ff00" stroke-width="1.5" stroke-linejoin="round"/>
<path d="M478.22 335.67L483.12 344.47L473.32 344.47Z" fill="#00ff00" stroke="#00ff00" stroke-width="1.5" stroke-linejoin="round"/>
<path d="M608.00 287.55L612.90 296.35L603.10 296.35Z" fill="#00ff00" stroke="#00ff00" stroke-width="1.5" stroke-linejoin="round"/>
<path d="M737.78 335.67L742.68 344.47L732.88 344.47Z" fill="#00ff00" stroke="#00ff00" stroke-width="1.5" stroke-linejoin="round"/>
<path d="M867.56 383.80L872.46 392.60L862.66 392.60Z" fill="#00ff00" stroke="#00ff00" stroke-width="1.5" stroke-linejoin="round"/>
<path d="M213.76 361.49L223.56 361.49L218.66 370.29Z" fill="#0000ff" stroke="#0000ff" stroke-width="1.5" stroke-linejoin="round"/>
<path d="M343.54 289.31L353.34 289.31L348.44 298.11Z" fill="#0000ff" stroke="#0000ff" stroke-width="1.5" stroke-linejoin="round"/>
<path d="M473.32 193.06L483.12 193.06L478.22 201.86Z" fill="#0000ff" stroke="#0000ff" stroke-width="1.5" stroke-linejoin="round"/>
<path d="M603.10 96.81L612.90 96.81L608.00 105.61Z" fill="#0000ff" stroke="#0000ff" stroke-width="1.5" stroke-linejoin="round"/>
<path d="M732.88 72.74L742.68 72.74L737.78 81.54Z" fill="#0000ff" stroke="#0000ff" stroke-width="1.5" stroke-linejoin="round"/>
<path d="M862.66 120.87L872.46 120.87L867.56 129.67Z" fill="#0000ff" stroke="#0000ff" stroke-width="1.5" stroke-linejoin="round"/>
<path d="M214.26 413.14L223.06 413.14M218.66 408.74L218.66 417.54" stroke="#00ffff" stroke-width="4.5" stroke-linecap="round" fill="none"/>
<path d="M344.04 321.70L352.84 321.70M348.44 317.30L348.44 326.10" stroke="#00ffff" stroke-width="4.5" stroke-linecap="round" fill="none"/>
<path d="M473.82 220.64L482.62 220.64M478.22 216.24L478.22 225.04" stroke="#00ffff" stroke-width="4.5" stroke-linecap="round" fill="none"/>
<path d="M603.60 148.45L612.40 148.45M608.00 144.05L608.00 152.85" stroke="#00ffff" stroke-width="4.5" stroke-linecap="round" fill="none"/>
<path d="M733.38 172.51L742.18 172.51M737.78 168.11L737.78 176.91" stroke="#00ffff" stroke-width="4.5" stroke-linecap="round" fill="none"/>
<path d="M863.16 220.64L871.96 220.64M867.56 216.24L867.56 225.04" stroke="#00ffff" stroke-width="4.5" stroke-linecap="round" fill="none"/>
<path d="M213.82 437.20L222.62 432.30L222.62 442.10Z" fill="#ff00ff" stroke="#ff00ff" stroke-width="1.5" stroke-linejoin="round"/>
<path d="M343.60 389.08L352.40 384.18L352.40 393.98Z" fill="#ff00ff" stroke="#ff00ff" stroke-width="1.5" stroke-linejoin="round"/>
<path d="M473.38 292.83L482.18 287.93L482.18 297.73Z" fill="#ff00ff" stroke="#ff00ff" stroke-width="1.5" stroke-linejoin="round"/>
<path d="M603.16 244.70L611.96 239.80L611.96 249.60Z" fill="#ff00ff" stroke="#ff00ff" stroke-width="1.5" stroke-linejoin="round"/>
<path d="M732.94 292.83L741.74 287.93L741.74 297.73Z" fill="#ff00ff" stroke="#ff00ff" stroke-width="1.5" stroke-linejoin="round"/>
<path d="M862.72 340.95L871.52 336.05L871.52 345.85Z" fill="#ff00ff" stroke="#ff00ff" stroke-width="1.5" stroke-linejoin="round"/>
<path d="M166.5 12.70L241 12.70" stroke="#000000" stroke-width="3" fill="none"/>
<path d="M199.50 8.20L208.50 17.20M199.50 17.20L208.50 8.20" stroke="#000000" stroke-width="3.8" stroke-linecap="round" fill="none"/>
<text class="lg" x="248" y="23.60">Epoxy</text>
<path d="M166.5 52.70L241 52.70" stroke="#ff0000" stroke-width="3" fill="none"/>
<path d="M204.00 48.40L205.70 50.35L208.09 51.37L206.76 53.60L206.53 56.18L204.00 55.60L201.47 56.18L201.24 53.60L199.91 51.37L202.30 50.35Z" fill="#ff0000" stroke="#ff0000" stroke-width="2.0" stroke-linejoin="round"/>
<text class="lg" x="248" y="63.60">Epoxy/PANI</text>
<path d="M166.5 92.70L241 92.70" stroke="#0000ff" stroke-width="3" fill="none"/>
<path d="M204.00 87.42L208.90 96.22L199.10 96.22Z" fill="#00ff00" stroke="#00ff00" stroke-width="1.5" stroke-linejoin="round"/>
<text class="lg" x="248" y="103.60">NC1</text>
<path d="M166.5 132.70L241 132.70" stroke="#ff00ff" stroke-width="3" fill="none"/>
<path d="M199.10 129.18L208.90 129.18L204.00 137.98Z" fill="#0000ff" stroke="#0000ff" stroke-width="1.5" stroke-linejoin="round"/>
<text class="lg" x="248" y="143.60">NC2</text>
<path d="M166.5 172.70L241 172.70" stroke="#008000" stroke-width="3" fill="none"/>
<path d="M199.60 172.70L208.40 172.70M204.00 168.30L204.00 177.10" stroke="#00ffff" stroke-width="4.5" stroke-linecap="round" fill="none"/>
<text class="lg" x="248" y="183.60">NC3</text>
<path d="M166.5 212.70L241 212.70" stroke="#000080" stroke-width="3" fill="none"/>
<path d="M199.16 212.70L207.96 207.80L207.96 217.60Z" fill="#ff00ff" stroke="#ff00ff" stroke-width="1.5" stroke-linejoin="round"/>
<text class="lg" x="248" y="223.60">NC4</text>
</svg></body></html>
